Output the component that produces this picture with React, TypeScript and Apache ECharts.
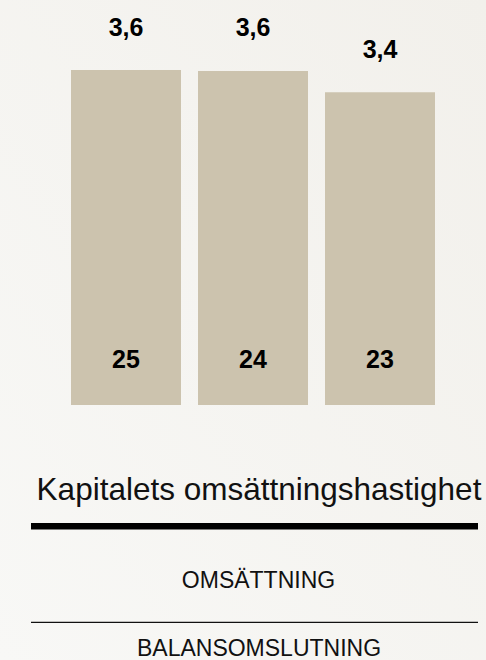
import React, { useEffect, useRef } from "react";
import * as echarts from "echarts";

const categories = ["A", "B", "C"];
const barValues = [3.62, 3.61, 3.38];
const topLabels = ["3,6", "3,6", "3,4"];
const bottomLabels = ["25", "24", "23"];
const titleText = "Kapitalets omsättningshastighet";
const numeratorText = "OMSÄTTNING";
const denominatorText = "BALANSOMSLUTNING";

const FONT = "'Liberation Sans', Arial, Helvetica, sans-serif";

export default function App() {
  const ref = useRef<HTMLDivElement>(null);
  useEffect(() => {
    if (!ref.current) return;
    const chart = echarts.init(ref.current, null, { renderer: "svg" });
    chart.setOption({
      animation: false,
      backgroundColor: {
        type: "linear",
        x: 0,
        y: 1,
        x2: 1,
        y2: 0,
        colorStops: [
          { offset: 0, color: "#f8f8f6" },
          { offset: 1, color: "#f2f0eb" },
        ],
      },
      grid: { left: 62.5, right: 42.5, top: 70, bottom: 255 },
      xAxis: {
        type: "category",
        data: categories,
        show: false,
      },
      yAxis: {
        type: "value",
        min: 0,
        max: barValues[0],
        show: false,
      },
      series: [
        {
          type: "bar",
          data: barValues,
          barWidth: 110,
          itemStyle: { color: "#ccc3ae" },
          label: {
            show: true,
            position: "top",
            distance: 31,
            fontFamily: FONT,
            fontWeight: "bold",
            fontSize: 25,
            color: "#000",
            formatter: (p: any) => topLabels[p.dataIndex],
          },
        },
        {
          type: "bar",
          data: barValues,
          barWidth: 110,
          barGap: "-100%",
          itemStyle: { color: "rgba(0,0,0,0)" },
          label: {
            show: true,
            position: "insideBottom",
            distance: 34,
            fontFamily: FONT,
            fontWeight: "bold",
            fontSize: 25,
            color: "#000",
            formatter: (p: any) => bottomLabels[p.dataIndex],
          },
        },
      ],
      graphic: [
        {
          type: "text",
          x: 259,
          y: 489,
          style: {
            text: titleText,
            fontFamily: FONT,
            fontSize: 31.5,
            fill: "#111",
            align: "center",
            verticalAlign: "middle",
          },
        },
        {
          type: "rect",
          shape: { x: 31, y: 523, width: 447, height: 6.5 },
          style: { fill: "#000" },
        },
        {
          type: "text",
          x: 258.5,
          y: 579.5,
          style: {
            text: numeratorText,
            fontFamily: FONT,
            fontSize: 23,
            fill: "#111",
            align: "center",
            verticalAlign: "middle",
          },
        },
        {
          type: "rect",
          shape: { x: 31, y: 621.8, width: 447, height: 1.2 },
          style: { fill: "#111" },
        },
        {
          type: "text",
          x: 259,
          y: 659.5,
          style: {
            text: denominatorText,
            fontFamily: FONT,
            fontSize: 23,
            fill: "#111",
            align: "center",
            verticalAlign: "bottom",
          },
        },
      ],
    });
    return () => chart.dispose();
  }, []);
  return (
    <div
      ref={ref}
      style={{ position: "fixed", left: 0, top: 0, width: 486, height: 660 }}
    />
  );
}
